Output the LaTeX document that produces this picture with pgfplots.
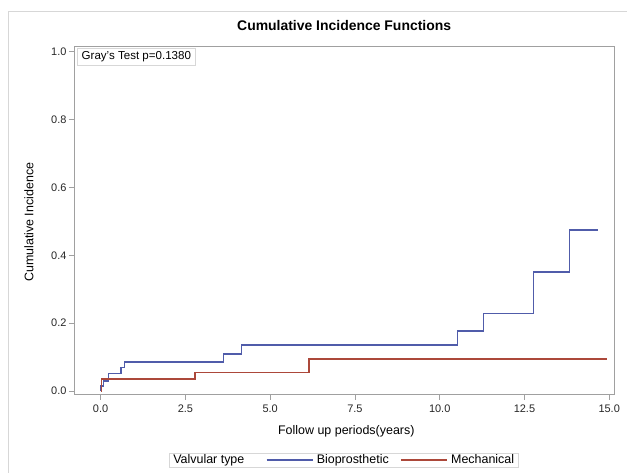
\documentclass[border=0pt]{standalone}
\usepackage{pgfplots}
\pgfplotsset{compat=1.18}
\usepackage{fontspec}
\setmainfont{Liberation Sans}
\definecolor{sasblue}{RGB}{80,92,170}
\definecolor{sasred}{RGB}{172,72,58}
\definecolor{framegray}{RGB}{160,160,160}
\definecolor{bordergray}{RGB}{215,215,215}
\begin{document}
\begin{tikzpicture}
\useasboundingbox (-74bp,-78.5bp) rectangle (553bp,394.5bp);
\draw[bordergray, line width=0.8bp] (-65.7bp,-78.5bp) -- (-65.7bp,382.8bp) -- (553bp,382.8bp);
\begin{axis}[
  at={(0,0)}, anchor=south west,
  scale only axis,
  width=540.3bp, height=347.8bp,
  xmin=-0.785, xmax=15.15,
  ymin=-0.0103, ymax=1.0147,
  xtick={0,2.5,5,7.5,10,12.5,15},
  ytick={0,0.2,0.4,0.6,0.8,1.0},
  xtick pos=left, ytick pos=left,
  tick align=outside,
  major tick length=5bp,
  axis line style={framegray, line width=0.8bp},
  tick style={framegray, line width=0.8bp},
  /pgf/number format/.cd, fixed, fixed zerofill, precision=1, assume math mode=true,
  /pgfplots/.cd,
  ticklabel style={font=\fontsize{11}{13}\selectfont, text=black!85},
  yticklabel style={xshift=1bp},
  xticklabel style={yshift=-1.5bp},
  title={Cumulative Incidence Functions},
  title style={font=\bfseries\fontsize{14}{16}\selectfont, at={(axis description cs:0.5,1.0308)}, anchor=base},
  xlabel={Follow up periods(years)},
  xlabel style={font=\fontsize{12.5}{14}\selectfont, at={(axis description cs:0.504,-0.115)}, anchor=base},
  ylabel={Cumulative Incidence},
  ylabel style={font=\fontsize{12.5}{14}\selectfont, at={(axis description cs:-0.0753,0.495)}, anchor=base, rotate=0},
  legend columns=-1,
  legend image code/.code={\draw[#1, line width=1.4bp] (0bp,0bp) -- (46bp,0bp);},
  legend style={draw=bordergray, at={(axis description cs:0.4992,-0.1883)}, anchor=center,
    font=\fontsize{12.5}{14}\selectfont, inner xsep=0.5bp, inner ysep=0.5bp,
    /tikz/every even column/.append style={column sep=8bp},
    nodes={inner xsep=3.5bp, inner ysep=1.5bp}},
]
\addlegendimage{empty legend}
\addlegendentry{Valvular type\kern10bp}
\addplot[const plot, sasblue, line width=1.4bp] coordinates {
(0,0) (0,0.0147) (0.077,0.030) (0.225,0.051) (0.60,0.069) (0.70,0.085)
(3.62,0.109) (4.16,0.135) (10.52,0.177) (11.30,0.228) (12.76,0.351)
(13.82,0.474) (14.68,0.474)
};
\addlegendentry{Bioprosthetic}
\addplot[const plot, sasred, line width=1.4bp] coordinates {
(0,0) (0.03,0.035) (2.78,0.055) (6.14,0.094) (14.94,0.094)
};
\addlegendentry{Mechanical}
\node[draw=bordergray, anchor=north west, inner xsep=4.5bp, inner ysep=0pt,
  minimum height=16.5bp, font=\fontsize{11.6}{13}\selectfont]
  at ([xshift=3bp,yshift=-1.5bp]rel axis cs:0,1) {Gray's Test p=0.1380};
\end{axis}
\end{tikzpicture}
\end{document}
